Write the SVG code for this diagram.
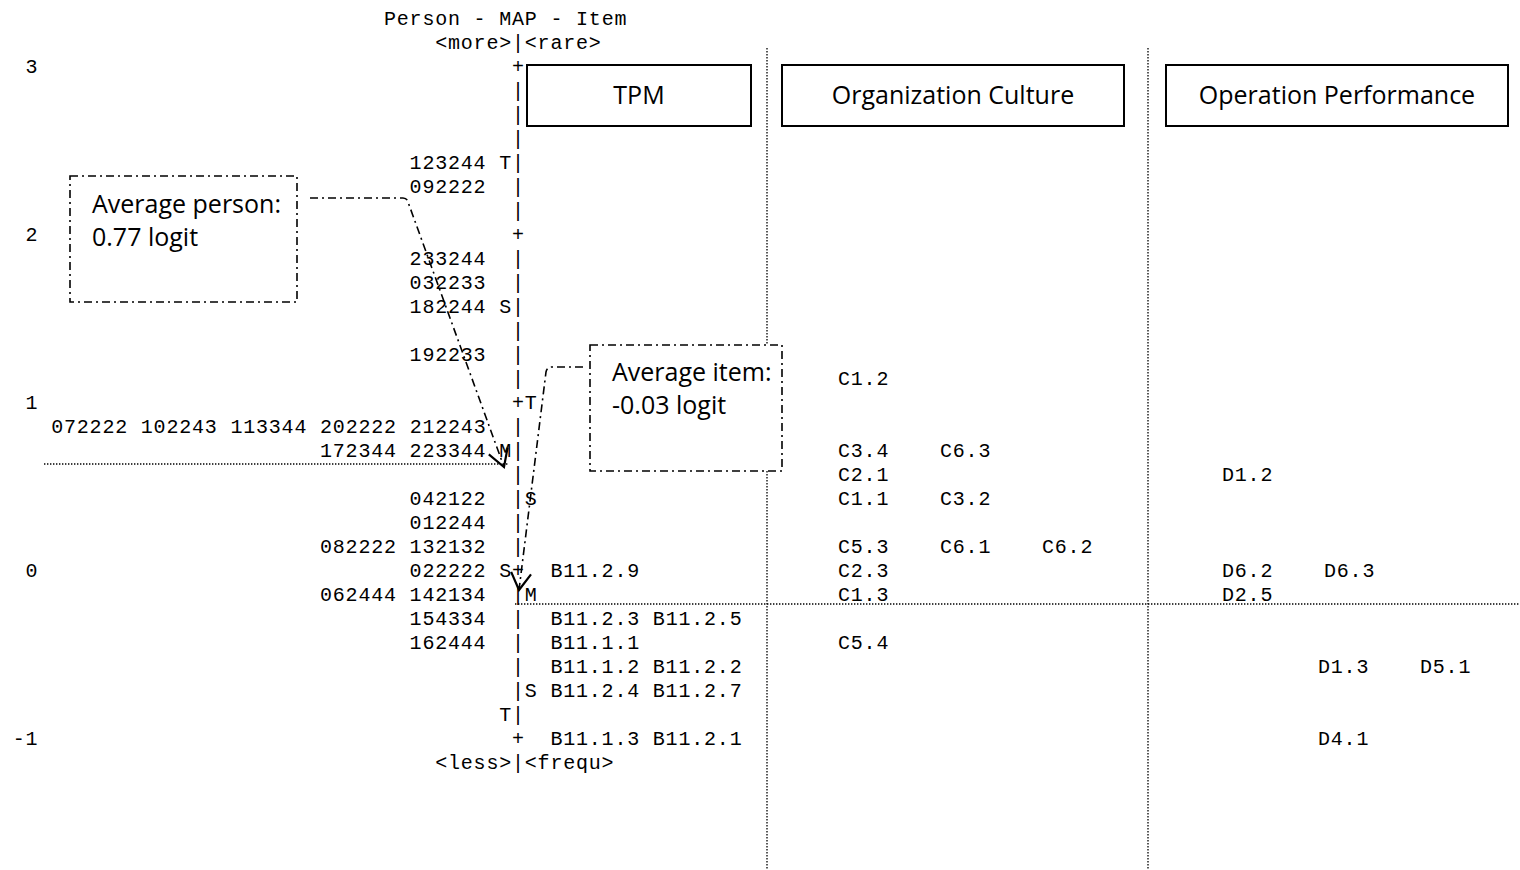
<svg xmlns="http://www.w3.org/2000/svg" width="1520" height="870" viewBox="0 0 1520 870">
<style>
.m{font-family:"Liberation Mono","DejaVu Sans Mono",monospace;font-size:20px;letter-spacing:0.8px;fill:#000;white-space:pre}
.s{font-family:"Open Sans","Liberation Sans",sans-serif;font-size:25px;fill:#000}
.dot{fill:none;stroke:#000;stroke-width:1.3;stroke-dasharray:1.4 1.6}
.hdr{fill:#fff;stroke:#000;stroke-width:2}
.co{fill:#fff;stroke:#000;stroke-width:1.6;stroke-dasharray:8 4 2 4}
.ld{fill:none;stroke:#000;stroke-width:1.6;stroke-dasharray:8 4 2 4}
</style>
<defs>
<marker id="vh" markerUnits="userSpaceOnUse" markerWidth="50" markerHeight="50" viewBox="-25 -25 50 50" refX="0" refY="0" orient="auto" overflow="visible">
<path d="M-17,-10 L0,0 L-17,10" fill="none" stroke="#000" stroke-width="2.2" stroke-dasharray="none"/>
</marker>
</defs>
<rect width="1520" height="870" fill="#fff"/>
<g id="gridlines">
<line class="dot" x1="767" y1="48" x2="767" y2="870"/>
<line class="dot" x1="1148" y1="48" x2="1148" y2="870"/>
<line class="dot" x1="44" y1="464" x2="508" y2="464"/>
<line class="dot" x1="515" y1="604" x2="1520" y2="604"/>
</g>
<g id="map" xml:space="preserve">
<text class="m" x="384" y="25">Person - MAP - Item</text>
<text class="m" x="435.2" y="49">&lt;more&gt;|&lt;rare&gt;</text>
<text class="m" x="25.6" y="73">3</text><text class="m" x="512" y="73">+</text>
<text class="m" x="512" y="97">|</text>
<text class="m" x="512" y="121">|</text>
<text class="m" x="512" y="145">|</text>
<text class="m" x="409.6" y="169">123244 T|</text>
<text class="m" x="409.6" y="193">092222  |</text>
<text class="m" x="512" y="217">|</text>
<text class="m" x="25.6" y="241">2</text><text class="m" x="512" y="241">+</text>
<text class="m" x="409.6" y="265">233244  |</text>
<text class="m" x="409.6" y="289">032233  |</text>
<text class="m" x="409.6" y="313">182244 S|</text>
<text class="m" x="512" y="337">|</text>
<text class="m" x="409.6" y="361">192233  |</text>
<text class="m" x="512" y="385">|</text>
<text class="m" x="25.6" y="409">1</text><text class="m" x="512" y="409">+T</text>
<text class="m" x="51.2" y="433">072222 102243 113344 202222 212243  |</text>
<text class="m" x="320" y="457">172344 223344 M|</text>
<text class="m" x="512" y="481">|</text>
<text class="m" x="409.6" y="505">042122  |S</text>
<text class="m" x="409.6" y="529">012244  |</text>
<text class="m" x="320" y="553">082222 132132  |</text>
<text class="m" x="25.6" y="577">0</text><text class="m" x="409.6" y="577">022222 S+  B11.2.9</text>
<text class="m" x="320" y="601">062444 142134  |M</text>
<text class="m" x="409.6" y="625">154334  |  B11.2.3 B11.2.5</text>
<text class="m" x="409.6" y="649">162444  |  B11.1.1</text>
<text class="m" x="512" y="673">|  B11.1.2 B11.2.2</text>
<text class="m" x="512" y="697">|S B11.2.4 B11.2.7</text>
<text class="m" x="499.2" y="721">T|</text>
<text class="m" x="12.8" y="745">-1</text><text class="m" x="512" y="745">+  B11.1.3 B11.2.1</text>
<text class="m" x="435.2" y="769">&lt;less&gt;|&lt;frequ&gt;</text>
</g>
<g id="items-culture">
<text class="m" x="838" y="385">C1.2</text>
<text class="m" x="838" y="457">C3.4</text><text class="m" x="940" y="457">C6.3</text>
<text class="m" x="838" y="481">C2.1</text>
<text class="m" x="838" y="505">C1.1</text><text class="m" x="940" y="505">C3.2</text>
<text class="m" x="838" y="553">C5.3</text><text class="m" x="940" y="553">C6.1</text><text class="m" x="1042" y="553">C6.2</text>
<text class="m" x="838" y="577">C2.3</text>
<text class="m" x="838" y="601">C1.3</text>
<text class="m" x="838" y="649">C5.4</text>
</g>
<g id="items-performance">
<text class="m" x="1222" y="481">D1.2</text>
<text class="m" x="1222" y="577">D6.2</text><text class="m" x="1324" y="577">D6.3</text>
<text class="m" x="1222" y="601">D2.5</text>
<text class="m" x="1318" y="673">D1.3</text><text class="m" x="1420" y="673">D5.1</text>
<text class="m" x="1318" y="745">D4.1</text>
</g>
<g id="hdr-tpm">
<rect class="hdr" x="527" y="65" width="224" height="61"/>
<text class="s" x="639" y="104" text-anchor="middle">TPM</text>
</g>
<g id="hdr-culture">
<rect class="hdr" x="782" y="65" width="342" height="61"/>
<text class="s" x="953" y="104" text-anchor="middle">Organization Culture</text>
</g>
<g id="hdr-performance">
<rect class="hdr" x="1166" y="65" width="342" height="61"/>
<text class="s" x="1337" y="104" text-anchor="middle">Operation Performance</text>
</g>
<g id="callout-person">
<rect class="co" x="70" y="176" width="227" height="126"/>
<text class="s" x="92" y="213">Average person:</text>
<text class="s" x="92" y="246">0.77 logit</text>
</g>
<g id="callout-item">
<rect class="co" x="590" y="345" width="192" height="126"/>
<text class="s" x="612" y="381">Average item:</text>
<text class="s" x="612" y="414">-0.03 logit</text>
</g>
<g id="connectors">
<path class="ld" d="M310,198 L403,198 Q407,198 408,202 L504,467" marker-end="url(#vh)"/>
<path class="ld" d="M583,367 L552,367 Q547,367 546,372 L519,590" marker-end="url(#vh)"/>
</g>
</svg>
